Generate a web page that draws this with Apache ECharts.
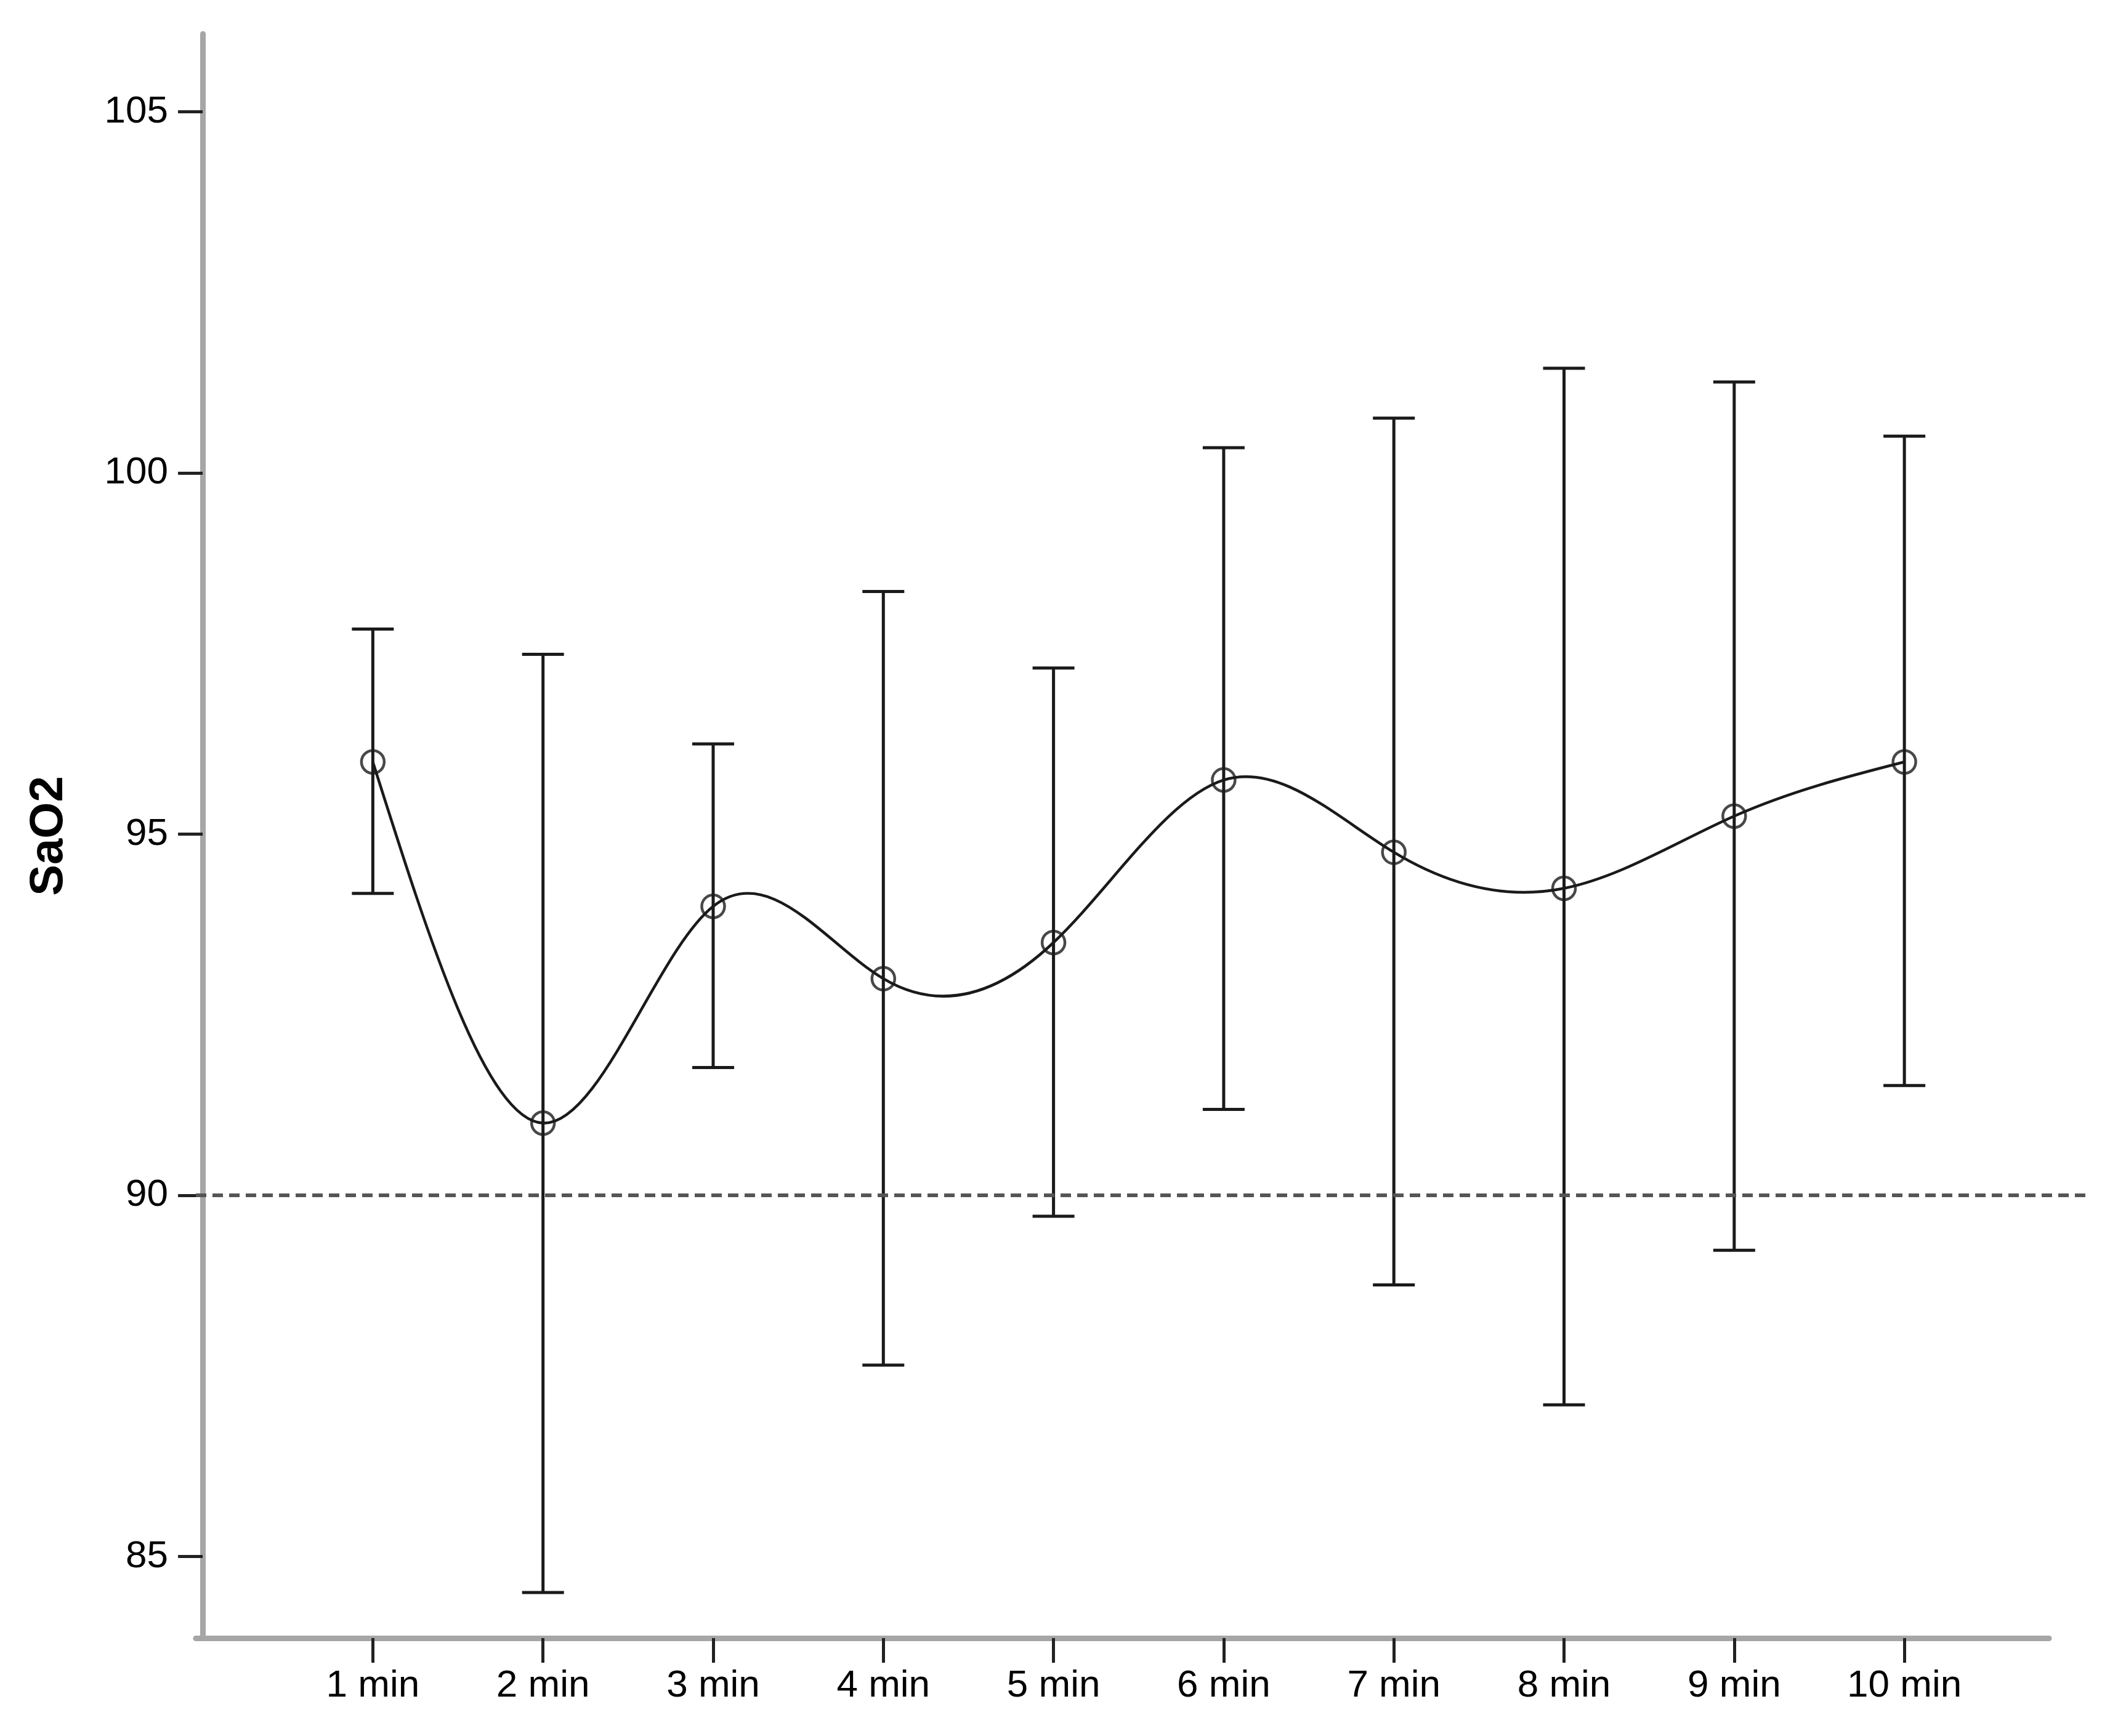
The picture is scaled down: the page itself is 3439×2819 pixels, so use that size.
<!DOCTYPE html>
<html><head><meta charset="utf-8">
<script src="https://cdn.jsdelivr.net/npm/echarts@6/dist/echarts.min.js"></script>
<style>html,body{margin:0;padding:0;background:#fff}#c{width:3439px;height:2819px}</style>
</head><body><div id="c"></div>
<script>
const categories = ['1 min','2 min','3 min','4 min','5 min','6 min','7 min','8 min','9 min','10 min'];
const minutes = [1,2,3,4,5,6,7,8,9,10];
const meanValues = [96.0, 91.0, 94.0, 93.0, 93.5, 95.75, 94.75, 94.25, 95.25, 96.0];
const upperValues = [97.84, 97.49, 96.25, 98.36, 97.3, 100.35, 100.76, 101.45, 101.26, 100.51];
const lowerValues = [94.18, 84.5, 91.77, 87.65, 89.71, 91.19, 88.76, 87.1, 89.24, 91.52];
const yTicks = [85, 90, 95, 100, 105];
const referenceValue = 90;
const yTitle = 'SaO2';

const Y_MIN = 83.87, Y_MAX = 106.08;
const FONT = '"Liberation Sans", Arial, sans-serif';

// Natural cubic spline tangents (SPSS-style spline interpolation through the means)
function splineSlopes(xs, ys) {
  const n = xs.length;
  const h = [];
  for (let i = 0; i < n - 1; i++) h.push(xs[i + 1] - xs[i]);
  const a = new Array(n).fill(0), b = new Array(n).fill(1), c = new Array(n).fill(0), d = new Array(n).fill(0);
  for (let i = 1; i < n - 1; i++) {
    a[i] = h[i - 1]; b[i] = 2 * (h[i - 1] + h[i]); c[i] = h[i];
    d[i] = 6 * ((ys[i + 1] - ys[i]) / h[i] - (ys[i] - ys[i - 1]) / h[i - 1]);
  }
  const cp = new Array(n).fill(0), dp = new Array(n).fill(0);
  cp[0] = c[0] / b[0]; dp[0] = d[0] / b[0];
  for (let i = 1; i < n; i++) {
    const m = b[i] - a[i] * cp[i - 1];
    cp[i] = c[i] / m; dp[i] = (d[i] - a[i] * dp[i - 1]) / m;
  }
  const M = new Array(n).fill(0);
  M[n - 1] = dp[n - 1];
  for (let i = n - 2; i >= 0; i--) M[i] = dp[i] - cp[i] * M[i + 1];
  const s = [];
  for (let i = 0; i < n - 1; i++) s.push((ys[i + 1] - ys[i]) / h[i] - h[i] * (2 * M[i] + M[i + 1]) / 6);
  const last = n - 1;
  s.push((ys[last] - ys[last - 1]) / h[last - 1] + h[last - 1] * (M[last - 1] + 2 * M[last]) / 6);
  return s;
}
const slopes = splineSlopes(minutes, meanValues);
const segData = [];
for (let i = 0; i < minutes.length - 1; i++) {
  segData.push([minutes[i], meanValues[i], slopes[i], minutes[i + 1], meanValues[i + 1], slopes[i + 1]]);
}

const chart = echarts.init(document.getElementById('c'), null, {renderer: 'canvas'});
const meanData = minutes.map((m, i) => [m, meanValues[i]]);
const barData = minutes.map((m, i) => [m, lowerValues[i], upperValues[i]]);

chart.setOption({
  animation: false,
  backgroundColor: '#ffffff',
  grid: [
    {left: 318, right: 112, top: 55, bottom: 159},
    {left: 318, right: 51, top: 55, bottom: 159}
  ],
  xAxis: [
    {
      type: 'value', gridIndex: 0, min: -0.04, max: 10.85,
      splitLine: {show: false},
      axisLine: {show: true, lineStyle: {color: '#a6a6a6', width: 9}},
      axisTick: {show: true, customValues: minutes, length: 40, lineStyle: {color: '#222', width: 5}},
      axisLabel: {show: true, customValues: minutes, margin: 47, color: '#000', fontSize: 62, fontFamily: FONT,
        formatter: v => categories[Math.round(v) - 1]}
    },
    {type: 'value', gridIndex: 1, min: 0, max: 1, show: false}
  ],
  yAxis: [
    {
      type: 'value', gridIndex: 0, min: Y_MIN, max: Y_MAX,
      splitLine: {show: false},
      axisLine: {show: true, lineStyle: {color: '#a6a6a6', width: 9}},
      axisTick: {show: true, customValues: yTicks, length: 40, lineStyle: {color: '#222', width: 5}},
      axisLabel: {show: true, customValues: yTicks, margin: 45, color: '#000', fontSize: 62, fontFamily: FONT},
      name: yTitle, nameLocation: 'middle', nameGap: 200,
      nameTextStyle: {fontSize: 76, fontWeight: 'bold', color: '#000', fontFamily: FONT}
    },
    {type: 'value', gridIndex: 1, min: Y_MIN, max: Y_MAX, show: false}
  ],
  series: [
    {
      type: 'line', xAxisIndex: 1, yAxisIndex: 1,
      data: [[0, referenceValue], [1, referenceValue]],
      symbol: 'none', silent: true,
      lineStyle: {color: '#555', width: 6, type: [17, 10]}
    },
    {
      type: 'custom', xAxisIndex: 0, yAxisIndex: 0,
      data: barData,
      renderItem: function (params, api) {
        const x = api.value(0);
        const lo = api.coord([x, api.value(1)]);
        const hi = api.coord([x, api.value(2)]);
        const half = 34;
        const style = {stroke: '#1a1a1a', lineWidth: 5, fill: null};
        return {
          type: 'group',
          children: [
            {type: 'line', shape: {x1: lo[0], y1: lo[1], x2: hi[0], y2: hi[1]}, style: style},
            {type: 'line', shape: {x1: hi[0] - half, y1: hi[1], x2: hi[0] + half, y2: hi[1]}, style: style},
            {type: 'line', shape: {x1: lo[0] - half, y1: lo[1], x2: lo[0] + half, y2: lo[1]}, style: style}
          ]
        };
      },
      z: 2
    },
    {
      type: 'custom', xAxisIndex: 0, yAxisIndex: 0,
      data: segData,
      renderItem: function (params, api) {
        const x0 = api.value(0), y0 = api.value(1), m0 = api.value(2);
        const x1 = api.value(3), y1 = api.value(4), m1 = api.value(5);
        const h = (x1 - x0) / 3;
        const p0 = api.coord([x0, y0]);
        const p3 = api.coord([x1, y1]);
        const c1 = api.coord([x0 + h, y0 + m0 * h]);
        const c2 = api.coord([x1 - h, y1 - m1 * h]);
        return {
          type: 'bezierCurve',
          shape: {x1: p0[0], y1: p0[1], x2: p3[0], y2: p3[1], cpx1: c1[0], cpy1: c1[1], cpx2: c2[0], cpy2: c2[1]},
          style: {stroke: '#1a1a1a', lineWidth: 4.5, fill: null}
        };
      },
      z: 3
    },
    {
      type: 'scatter', xAxisIndex: 0, yAxisIndex: 0,
      data: meanData,
      symbol: 'circle', symbolSize: 37,
      itemStyle: {color: 'rgba(255,255,255,0)', borderColor: '#1a1a1a', borderWidth: 4.5},
      z: 4
    }
  ]
});
</script>
</body></html>
